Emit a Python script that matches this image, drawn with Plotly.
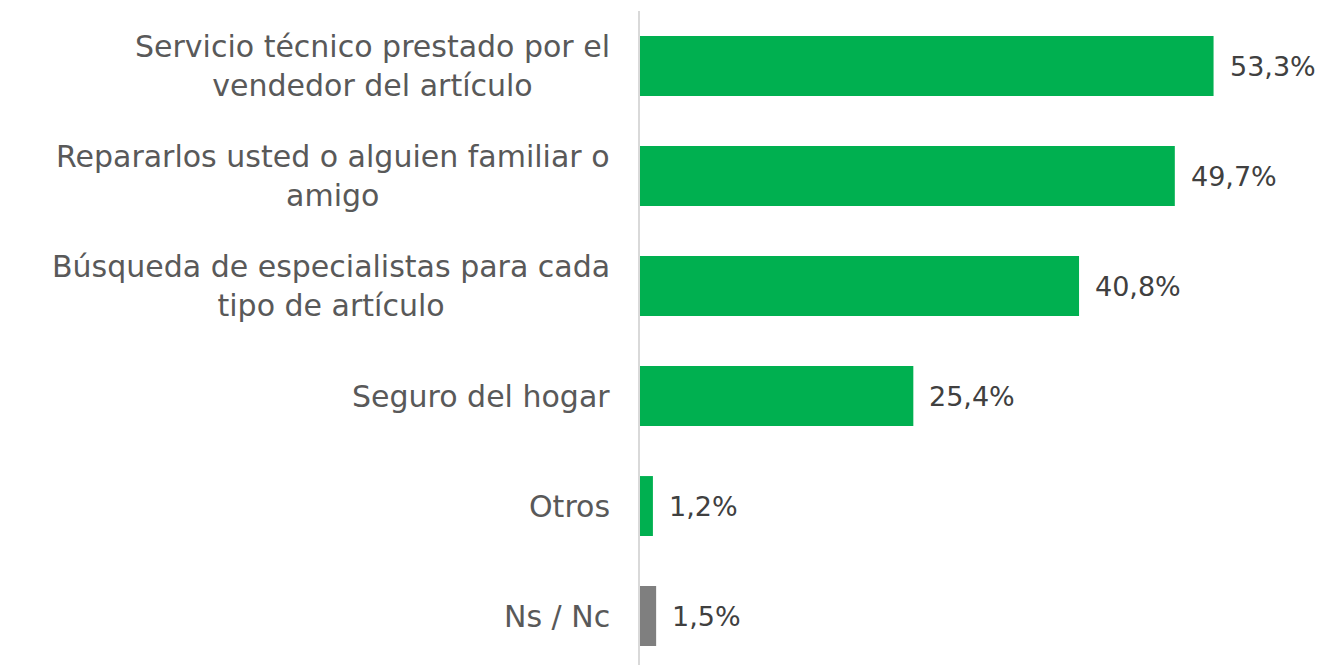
import plotly.graph_objects as go

categories = [
    "Servicio técnico prestado por el<br>vendedor del artículo",
    "Repararlos usted o alguien familiar o<br>amigo",
    "Búsqueda de especialistas para cada<br>tipo de artículo",
    "Seguro del hogar",
    "Otros",
    "Ns / Nc",
]
values = [53.3, 49.7, 40.8, 25.4, 1.2, 1.5]
value_labels = ["53,3%", "49,7%", "40,8%", "25,4%", "1,2%", "1,5%"]
colors = ["#00B050", "#00B050", "#00B050", "#00B050", "#00B050", "#7F7F7F"]

FONT = "Century Gothic, DejaVu Sans, sans-serif"

fig = go.Figure()
fig.add_trace(go.Bar(
    x=values,
    y=list(range(len(categories))),
    orientation="h",
    marker=dict(color=colors, line=dict(width=0)),
    hoverinfo="skip",
))

annotations = []
for i, (cat, v, lab) in enumerate(zip(categories, values, value_labels)):
    annotations.append(dict(
        x=0, xref="paper", y=i, yref="y", text=cat, showarrow=False,
        xanchor="right", yanchor="middle", align="center", xshift=-28,
        font=dict(family=FONT, size=30, color="#595959"),
    ))
    annotations.append(dict(
        x=v, xref="x", y=i, yref="y", text=lab, showarrow=False,
        xanchor="left", yanchor="middle", xshift=14,
        font=dict(family=FONT, size=27, color="#404040"),
    ))

fig.update_layout(
    width=1315, height=657,
    margin=dict(l=632, r=0, t=3, b=0),
    paper_bgcolor="white", plot_bgcolor="white",
    bargap=0.455,
    showlegend=False,
    annotations=annotations,
    xaxis=dict(range=[0, 63.47], showgrid=False, zeroline=False,
               showticklabels=False, showline=False, fixedrange=True),
    yaxis=dict(range=[5.445, -0.5], showgrid=False, zeroline=False,
               showticklabels=False, showline=True, linecolor="#D9D9D9",
               linewidth=2, fixedrange=True),
)

fig.write_html("out.html")
